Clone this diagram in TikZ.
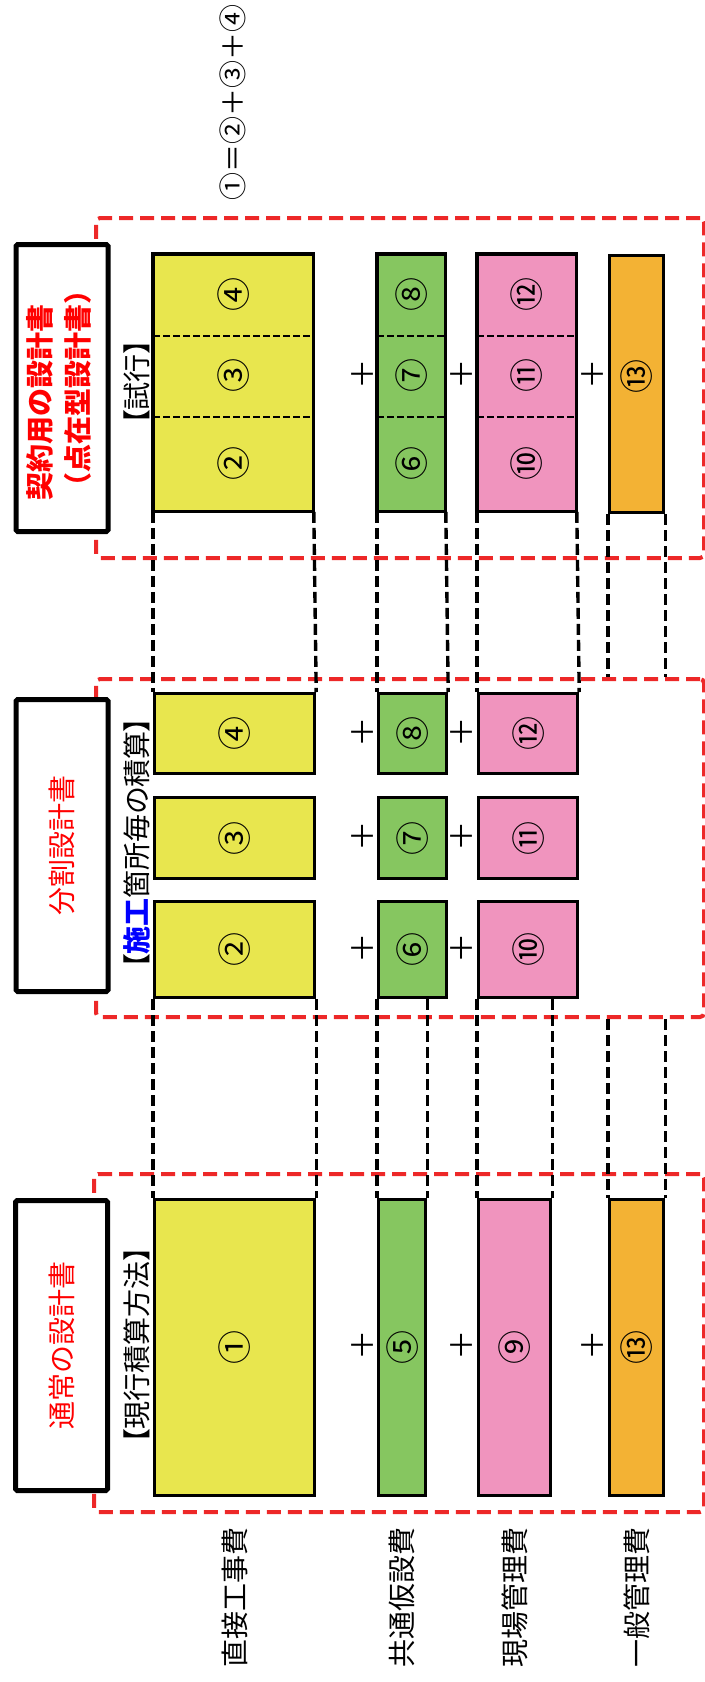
\documentclass[tikz,border=0pt]{standalone}
\usepackage{fontspec}
\setmainfont{Noto Sans CJK JP}
\newfontfamily\cjkp[RawFeature=+palt]{Noto Sans CJK JP}
\usepackage{graphicx}
\usetikzlibrary{positioning,calc}
\definecolor{boxyellow}{RGB}{232,230,78}
\definecolor{boxgreen}{RGB}{134,198,96}
\definecolor{boxpink}{RGB}{240,148,190}
\definecolor{boxorange}{RGB}{243,178,52}
\definecolor{framered}{RGB}{237,40,40}
\newcommand{\turnup}[1]{\rotatebox{90}{#1}}
\newcommand{\bignum}[1]{\rotatebox{90}{\fontsize{17pt}{19pt}\selectfont #1}}
\tikzset{
  every node/.style={font=\fontsize{14pt}{19pt}\selectfont},
  redframe/.style={draw=framered,line width=2pt,dash pattern=on 7pt off 3.5pt,
    rounded corners=2pt,inner sep=0pt,anchor=north west},
  titlebox/.style={draw=black,fill=white,line width=2.5pt,rounded corners=0.8pt,
    inner sep=0pt,anchor=north west,text=red,minimum width=46pt},
  costbox/.style={draw=black,line width=1.6pt,inner sep=0pt,anchor=north west},
  costcell/.style={inner sep=0pt,anchor=north west},
  link/.style={line width=1.7pt,dash pattern=on 5.5pt off 2.5pt},
  sepline/.style={line width=1.1pt,dash pattern=on 3.5pt off 1.5pt},
  sidetext/.style={rotate=90,inner sep=0pt},
  plussign/.style={inner sep=0pt,font=\fontsize{15pt}{19pt}\selectfont},
}

\begin{document}
\begin{tikzpicture}[x=0.5pt,y=-0.5pt]
    \useasboundingbox (0,0) rectangle (705,1682);
    % frames
    \node[redframe, minimum width=304pt, minimum height=170pt] (cFrame) at (94,216) {};
    \node[redframe, minimum width=304pt, minimum height=169pt] (sFrame) at (94,677) {};
    \node[redframe, minimum width=305pt, minimum height=169pt] (nFrame) at (92,1172) {};
    % titles
    \node[titlebox, minimum height=143.5pt] (cTitle) at (13.5,242)
        {\turnup{\bfseries\begin{tabular}{@{}l@{}}契約用の設計書\\（点在型設計書）\end{tabular}}};
    \node[titlebox, minimum height=146pt] (sTitle) at (13.5,697) {\turnup{分割設計書}};
    \node[titlebox, minimum height=145pt] (nTitle) at (13,1198) {\turnup{通常の設計書}};
    % method labels
    \node[sidetext] (cNote) at (137,382) {\cjkp【試行】};
    \node[sidetext] (sNote) at (137,843) {\cjkp【{\color{blue}\bfseries 施工}箇所毎の積算】};
    \node[sidetext] (nNote) at (137,1345) {\cjkp【現行積算方法】};
    \node[sidetext, anchor=west] (sum) at (233,201) {①＝②＋③＋④};

    % contract boxes
    \node[costcell, fill=boxyellow, minimum width=80pt, minimum height=40.5pt] (cY4) at (153,254) {\bignum{④}};
    \node[costcell, fill=boxyellow, minimum width=80pt, minimum height=40.5pt] (cY3) at (153,335) {\bignum{③}};
    \node[costcell, fill=boxyellow, minimum width=80pt, minimum height=47.5pt] (cY2) at (153,416) {\bignum{②}};
    \node[costcell, fill=boxgreen, minimum width=34pt, minimum height=40.5pt] (cG8) at (377,254) {\bignum{⑧}};
    \node[costcell, fill=boxgreen, minimum width=34pt, minimum height=40.5pt] (cG7) at (377,335) {\bignum{⑦}};
    \node[costcell, fill=boxgreen, minimum width=34pt, minimum height=47.5pt] (cG6) at (377,416) {\bignum{⑥}};
    \node[costcell, fill=boxpink, minimum width=49.5pt, minimum height=40.5pt] (cP12) at (477,254) {\bignum{⑫}};
    \node[costcell, fill=boxpink, minimum width=49.5pt, minimum height=40.5pt] (cP11) at (477,335) {\bignum{⑪}};
    \node[costcell, fill=boxpink, minimum width=49.5pt, minimum height=47.5pt] (cP10) at (477,416) {\bignum{⑩}};
    \node[costbox, fill=boxorange, minimum width=27pt, minimum height=128.5pt] (cO13) at (608,254) {\bignum{\hspace{8pt}⑬}};
    \foreach \a/\b in {cY4/cY2,cG8/cG6,cP12/cP10}
        \draw[line width=1.6pt] (\a.north west) rectangle (\b.south east);
    \foreach \s in {cY4,cY3,cG8,cG7,cP12,cP11}
        \draw[sepline] (\s.south west) -- (\s.south east);

    % split boxes
    \node[costbox, fill=boxyellow, minimum width=80pt, minimum height=40pt] (sY4) at (153,692) {\bignum{④}};
    \node[costbox, fill=boxyellow, minimum width=80pt, minimum height=40.5pt] (sY3) at (153,796) {\bignum{③}};
    \node[costbox, fill=boxyellow, minimum width=80pt, minimum height=48pt] (sY2) at (153,900) {\bignum{②}};
    \node[costbox, fill=boxgreen, minimum width=34pt, minimum height=40pt] (sG8) at (377,692) {\bignum{⑧}};
    \node[costbox, fill=boxgreen, minimum width=34pt, minimum height=40.5pt] (sG7) at (377,796) {\bignum{⑦}};
    \node[costbox, fill=boxgreen, minimum width=34pt, minimum height=48pt] (sG6) at (377,900) {\bignum{⑥}};
    \node[costbox, fill=boxpink, minimum width=49.5pt, minimum height=40pt] (sP12) at (477,692) {\bignum{⑫}};
    \node[costbox, fill=boxpink, minimum width=49.5pt, minimum height=40.5pt] (sP11) at (477,796) {\bignum{⑪}};
    \node[costbox, fill=boxpink, minimum width=49.5pt, minimum height=48pt] (sP10) at (477,900) {\bignum{⑩}};

    % normal boxes
    \node[costbox, fill=boxyellow, minimum width=80pt, minimum height=148pt] (nY1) at (153,1198) {\bignum{①}};
    \node[costbox, fill=boxgreen, minimum width=23.5pt, minimum height=148pt] (nG5) at (377,1198) {\bignum{⑤}};
    \node[costbox, fill=boxpink, minimum width=36pt, minimum height=148pt] (nP9) at (477,1198) {\bignum{⑨}};
    \node[costbox, fill=boxorange, minimum width=27pt, minimum height=148pt] (nO13) at (608,1198) {\bignum{⑬}};

    % plus signs
    \foreach \py [count=\k] in {374,732,836,948,1345} {
        \node[plussign] (pY\k) at (362,\py) {＋};
        \node[plussign] (pG\k) at (461,\py) {＋};
    }
    \foreach \py [count=\k] in {374,1345}
        \node[plussign] (pP\k) at (592,\py) {＋};

    % connectors contract -> split
    \draw[link] (cY2.south west) -- (sY4.north west);
    \draw[link] (cY2.south east) -- (sY4.north east);
    \draw[link] (cG6.south west) -- (sG8.north west);
    \draw[link] (cG6.south east) -- (sG8.north east);
    \draw[link] (cP10.south west) -- (sP12.north west);
    \draw[link] (cP10.south east) -- (sP12.north east);
    \draw[link] (cO13.south west) -- (cO13.south west |- sFrame.north);
    \draw[link] (cO13.south east) -- (cO13.south east |- sFrame.north);
    % connectors split -> normal
    \draw[link] (sY2.south west) -- (nY1.north west);
    \draw[link] (sY2.south east) -- (nY1.north east);
    \draw[link] (sG6.south west) -- (nG5.north west);
    \draw[link] (nG5.north east |- sG6.south) -- (nG5.north east);
    \draw[link] (sP10.south west) -- (nP9.north west);
    \draw[link] (nP9.north east |- sP10.south) -- (nP9.north east);
    \draw[link] (nO13.north west |- sFrame.south) -- (nO13.north west);
    \draw[link] (nO13.north east |- sFrame.south) -- (nO13.north east);

    % cost names
    \node[sidetext, anchor=east] (lY) at ([yshift=-15pt]nY1.south) {直接工事費};
    \node[sidetext, anchor=east] (lG) at ([yshift=-15pt]nG5.south) {共通仮設費};
    \node[sidetext, anchor=east] (lP) at ([yshift=-15pt]nP9.south) {現場管理費};
    \node[sidetext, anchor=east] (lO) at ([yshift=-15pt]nO13.south) {一般管理費};
\end{tikzpicture}
\end{document}
